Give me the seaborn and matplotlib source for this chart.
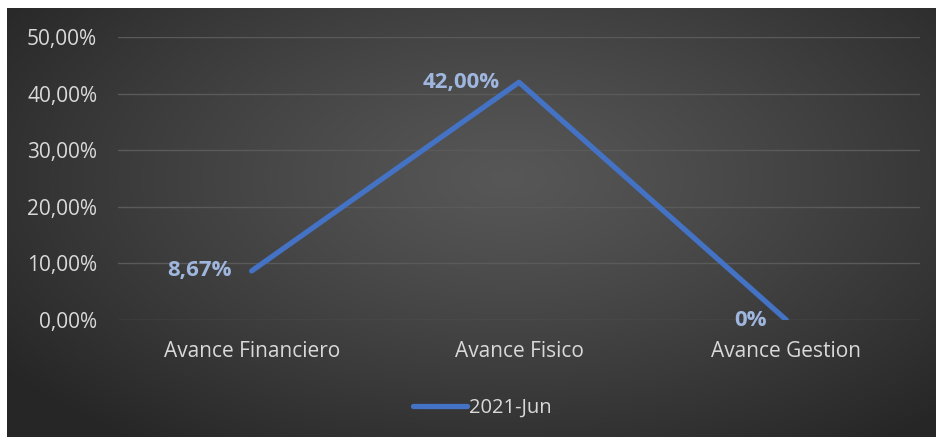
import numpy as np
import pandas as pd
import matplotlib
matplotlib.use("Agg")
import matplotlib.pyplot as plt
import seaborn as sns
from matplotlib.ticker import FuncFormatter

sns.set_style("white")
plt.rcParams['font.family'] = ['Open Sans', 'DejaVu Sans']

# datos
categorias = ["Avance Financiero", "Avance Fisico", "Avance Gestion"]
valores = [0.0867, 0.42, 0.0]
etiquetas = ["8,67%", "42,00%", "0%"]
serie = "2021-Jun"

df = pd.DataFrame({"cat": categorias, "val": valores, "serie": serie})

W, H = 937, 437
fig = plt.figure(figsize=(W / 100, H / 100), dpi=100)
fig.patch.set_facecolor("white")

# fondo con degradado radial
bg = fig.add_axes([7 / W, 0, (W - 7) / W, (H - 8) / H])
yy, xx = np.mgrid[0:429, 0:930]
r = np.sqrt(((xx - 500) / 620.0) ** 2 + ((yy - 170) / 330.0) ** 2)
r = np.clip(r, 0, 1)
c_in, c_out = 0.34, 0.15
grad = c_in + (c_out - c_in) * r ** 1.2
img = np.dstack([grad, grad, grad])
bg.imshow(img, aspect="auto", interpolation="bilinear")
bg.axis("off")

ax = fig.add_axes([118 / W, 117 / H, 802 / W, 283 / H])
ax.patch.set_alpha(0)
azul = "#4472C4"
sns.lineplot(data=df, x="cat", y="val", hue="serie", palette=[azul],
             linewidth=3.8, ax=ax, sort=False, solid_capstyle="round")

ax.set_xlim(-0.5, 2.5)
ax.set_ylim(0, 0.5)
ax.set_yticks(np.arange(0, 0.51, 0.1))
ax.yaxis.set_major_formatter(FuncFormatter(lambda v, p: ("%.2f%%" % (v * 100)).replace(".", ",")))
ax.grid(axis="y", color="#5a5a5a", linewidth=1)
ax.set_axisbelow(True)
for s in ax.spines.values():
    s.set_visible(False)
ax.tick_params(axis="both", length=0, colors="#d9d9d9", labelsize=15)
ax.tick_params(axis="y", pad=15)
ax.tick_params(axis="x", pad=15)
ax.set_xlabel("")
ax.set_ylabel("")

for i, (v, t) in enumerate(zip(valores, etiquetas)):
    ax.annotate(t, (i, v), xytext=(-14, 0), textcoords="offset points",
                ha="right", va="center", color="#9fb6df", fontsize=16,
                fontweight="bold")

leg = ax.legend(loc="upper center", bbox_to_anchor=(0.454, -0.21), frameon=False,
                fontsize=14.5, handlelength=2.7, handletextpad=0.1)
for t in leg.get_texts():
    t.set_color("#d9d9d9")
for l in leg.get_lines():
    l.set_linewidth(3.8)

fig.savefig("out.png", dpi=100)
